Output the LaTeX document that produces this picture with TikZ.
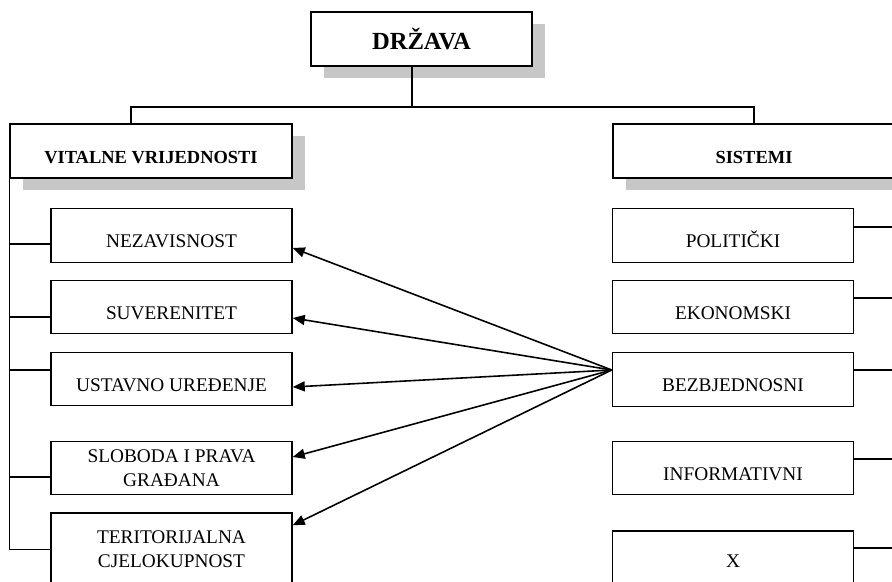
\documentclass[tikz,border=0pt]{standalone}
\usepackage{fontspec}
\setmainfont{Liberation Serif}
\usetikzlibrary{arrows.meta}
\usetikzlibrary{shadows}

\begin{document}
\begin{tikzpicture}[>={Triangle[length=2.4mm,width=2mm]}]

\tikzset{box/.style={draw,line width=0.85pt,fill=white,inner sep=2pt,align=center,
  minimum width=4.82cm,minimum height=1.07cm,font=\fontsize{11}{13.5}\selectfont}}
\tikzset{low/.style={text height=0.49cm,text depth=0pt}}
\tikzset{headbox/.style={box,minimum width=5.64cm,minimum height=1.08cm,
  font=\bfseries\fontsize{10.5}{12}\selectfont,
  general shadow={fill=black!22,shadow xshift=0.26cm,shadow yshift=-0.24cm}}}
\tikzset{link/.style={line width=0.85pt}}
\tikzset{arr/.style={line width=0.9pt,->}}

\useasboundingbox (0,0) rectangle (17.84,-11.64);
\clip (0,0) rectangle (17.84,-11.64);

%drzava
\node[headbox,minimum width=4.42cm,font=\bfseries\fontsize{14}{16}\selectfont] (drzava) at (8.43,-0.78) {DRŽAVA};

%head boxes
\node[headbox,low] (vitalne) at (3.02,-3.02) {VITALNE VRIJEDNOSTI};
\node[headbox,low] (sistemi) at (15.08,-3.02) {SISTEMI};

%vital values
\node[box,low] (nezavisnost) at (3.43,-4.71) {NEZAVISNOST};
\node[box,low] (suverenitet) at (3.43,-6.14) {SUVERENITET};
\node[box,low] (ustavno) at (3.43,-7.58) {USTAVNO UREĐENJE};
\node[box] (sloboda) at (3.43,-9.36) {SLOBODA I PRAVA\\GRAĐANA};
\node[box,minimum height=1.45cm] (teritorija) at (3.43,-10.985) {TERITORIJALNA\\CJELOKUPNOST};

%systems
\node[box,low] (politicki) at (14.66,-4.71) {POLITIČKI};
\node[box,low] (ekonomski) at (14.66,-6.14) {EKONOMSKI};
\node[box,low] (bezbjednosni) at (14.66,-7.59) {BEZBJEDNOSNI};
\node[box,low] (informativni) at (14.66,-9.36) {INFORMATIVNI};
\node[box,minimum height=1.2cm] (x) at (14.66,-11.22) {X};

%tree from drzava
\coordinate (split) at (8.24,-2.14);
\draw[link] (drzava.south -| split) -- (split);
\draw[link] ([xshift=-0.4cm]vitalne.north) |- (split) -| (sistemi.north);

%left spine
\draw[link] (vitalne.south west) -- (teritorija.west -| vitalne.west) -- (teritorija.west);
\draw[link] ([yshift=-0.17cm]nezavisnost.west) -- ([yshift=-0.17cm]nezavisnost.west -| vitalne.west);
\draw[link] ([yshift=-0.2cm]suverenitet.west) -- ([yshift=-0.2cm]suverenitet.west -| vitalne.west);
\draw[link] ([yshift=0.18cm]ustavno.west) -- ([yshift=0.18cm]ustavno.west -| vitalne.west);
\draw[link] ([yshift=-0.18cm]sloboda.west) -- ([yshift=-0.18cm]sloboda.west -| vitalne.west);

%right spine
\draw[link] (sistemi.south east) -- ([yshift=0.26cm]x.east -| sistemi.east) -- ([yshift=0.26cm]x.east);
\draw[link] ([yshift=0.17cm]politicki.east) -- ([yshift=0.17cm]politicki.east -| sistemi.east);
\draw[link] ([yshift=0.18cm]ekonomski.east) -- ([yshift=0.18cm]ekonomski.east -| sistemi.east);
\draw[link] ([yshift=0.19cm]bezbjednosni.east) -- ([yshift=0.19cm]bezbjednosni.east -| sistemi.east);
\draw[link] ([yshift=0.18cm]informativni.east) -- ([yshift=0.18cm]informativni.east -| sistemi.east);

%arrows from bezbjednosni
\coordinate (src) at ([yshift=0.19cm]bezbjednosni.west);
\draw[arr] (src) -- ([yshift=-0.25cm]nezavisnost.east);
\draw[arr] (src) -- ([yshift=-0.22cm]suverenitet.east);
\draw[arr] (src) -- ([yshift=-0.16cm]ustavno.east);
\draw[arr] (src) -- ([yshift=0.22cm]sloboda.east);
\draw[arr] (src) -- ([yshift=-0.26cm]teritorija.north east);

\end{tikzpicture}
\end{document}
